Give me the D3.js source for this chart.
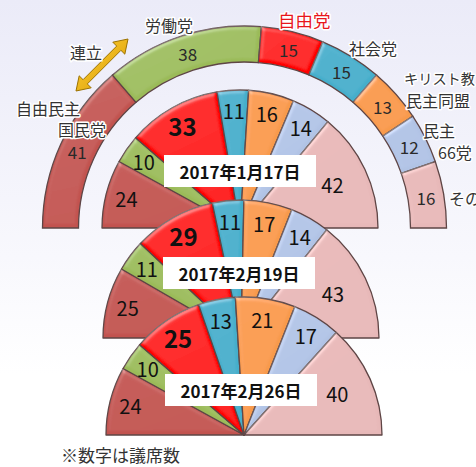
<!DOCTYPE html>
<html><head><meta charset="utf-8">
<script src="https://cdn.jsdelivr.net/npm/d3@7"></script>
<style>
html,body{margin:0;padding:0;background:#fff;}
svg{display:block;}
text{font-family:"Noto Sans CJK JP","Noto Sans",sans-serif;}
</style></head>
<body>
<svg id="c" width="476" height="467"></svg>
<script>
// ---------- data ----------
const parties = ["自由民主国民党","労働党","自由党","社会党","キリスト教民主同盟","民主66党","その他"];
const partyColors = ["#c2534f","#9bbb59","#ff0000","#45aecb","#f89a4c","#b1c3e5","#e7b8b8"];
const seatsCurrent = [41,38,15,15,13,12,16];
const pollDates = ["2017年1月17日","2017年2月19日","2017年2月26日"];
const pollJan17 = [24,10,33,11,16,14,42];
const pollFeb19 = [25,11,29,11,17,14,43];
const pollFeb26 = [24,10,25,13,21,17,40];
const polls = [pollJan17, pollFeb19, pollFeb26];
const noteText = "※数字は議席数";
const coalitionText = "連立";

// ---------- setup ----------
const svg = d3.select("#c");
const defs = svg.append("defs");
const bg = defs.append("linearGradient").attr("id","bg").attr("x1",0).attr("y1",0).attr("x2",0).attr("y2",1);
bg.append("stop").attr("offset","0%").attr("stop-color","#ebebf8");
bg.append("stop").attr("offset","55%").attr("stop-color","#f8f8fd");
bg.append("stop").attr("offset","80%").attr("stop-color","#ffffff");
svg.append("rect").attr("width",476).attr("height",467).attr("fill","url(#bg)");

// bevel filter
const f = defs.append("filter").attr("id","bevel").attr("x","-5%").attr("y","-5%").attr("width","110%").attr("height","110%");
f.append("feGaussianBlur").attr("in","SourceAlpha").attr("stdDeviation",2).attr("result","blur");
const spec = f.append("feSpecularLighting").attr("in","blur").attr("surfaceScale",2.5)
  .attr("specularConstant",0.4).attr("specularExponent",18).attr("lighting-color","#ffffff").attr("result","spec");
spec.append("fePointLight").attr("x",-300).attr("y",-600).attr("z",400);
f.append("feComposite").attr("in","spec").attr("in2","SourceAlpha").attr("operator","in").attr("result","specOut");
f.append("feComposite").attr("in","SourceGraphic").attr("in2","specOut").attr("operator","arithmetic")
  .attr("k1",0).attr("k2",1).attr("k3",0.55).attr("k4",0);

const pie = d3.pie().sort(null).startAngle(-Math.PI/2).endAngle(Math.PI/2);
const color = d3.scaleOrdinal().domain(parties).range(partyColors);

// ---------- top arc (current seats) ----------
const arcCx = 244.5, arcCy = 228, rIn = 166, rOut = 202;
const gTop = svg.append("g").attr("transform",`translate(${arcCx},${arcCy})`);
const arcTop = d3.arc().innerRadius(rIn).outerRadius(rOut);
const topData = pie(seatsCurrent);
gTop.selectAll("path").data(topData).join("path")
  .attr("d",arcTop).attr("fill",(d,i)=>color(parties[i]))
  .attr("stroke","#5e4545").attr("stroke-width",1.3).attr("filter","url(#bevel)");
const arcLbl = d3.arc().innerRadius((rIn+rOut)/2).outerRadius((rIn+rOut)/2);
gTop.selectAll("text.n").data(topData).join("text")
  .attr("class","n")
  .attr("transform",d=>`translate(${arcLbl.centroid(d)})`)
  .attr("text-anchor","middle").attr("dominant-baseline","central")
  .attr("font-size",17).attr("fill","#2a2a2a").text(d=>d.data);

// party labels around the arc
const partyLabels = [
  {t:"自由民主", x:16, y:108},
  {t:"国民党", x:58, y:129},
  {t:"労働党", x:145, y:25},
  {t:"自由党", x:278, y:19, c:"#e8161b", s:17.5},
  {t:"社会党", x:349, y:48},
  {t:"キリスト教", x:404, y:78, s:14.2},
  {t:"民主同盟", x:406, y:100},
  {t:"民主", x:423, y:130},
  {t:"66党", x:438, y:152},
  {t:"その他", x:449, y:198}
];
svg.append("g").selectAll("text").data(partyLabels).join("text")
  .attr("x",d=>d.x).attr("y",d=>d.y).attr("text-anchor","start")
  .attr("dominant-baseline","central")
  .attr("font-size",d=>d.s||16).attr("fill",d=>d.c||"#333")
  .attr("stroke","#ffffff").attr("stroke-width",3).attr("paint-order","stroke")
  .attr("stroke-linejoin","round")
  .text(d=>d.t);

// coalition arrow
(function(){
  const x1=76,y1=91,x2=128,y2=39;
  const dx=x2-x1, dy=y2-y1, L=Math.hypot(dx,dy), ux=dx/L, uy=dy/L, px=-uy, py=ux;
  const hw=3, HW=8.5, HL=13;
  const P=(t,o)=>[x1+ux*t+px*o, y1+uy*t+py*o];
  const pts=[P(0,0),P(HL,HW),P(HL,hw),P(L-HL,hw),P(L-HL,HW),P(L,0),P(L-HL,-HW),P(L-HL,-hw),P(HL,-hw),P(HL,-HW)];
  const g = defs.append("linearGradient").attr("id","gold").attr("x1",0).attr("y1",0).attr("x2",1).attr("y2",1);
  g.append("stop").attr("offset","0%").attr("stop-color","#ffd23a");
  g.append("stop").attr("offset","100%").attr("stop-color","#d99a00");
  svg.append("path").attr("d","M"+pts.map(p=>p.join(",")).join("L")+"Z")
    .attr("fill","url(#gold)").attr("stroke","#9c7200").attr("stroke-width",1);
  svg.append("text").attr("x",70).attr("y",52).attr("dominant-baseline","central")
    .attr("font-size",16).attr("fill","#333")
    .attr("stroke","#fff").attr("stroke-width",3).attr("paint-order","stroke").text(coalitionText);
})();

// ---------- polls (half pies) ----------
const pieCenters = [[240,228],[241,338],[244,435]];
const R = 138;
const boxes = [[164,155],[163,257],[165,374]];
const arcP = d3.arc().innerRadius(0).outerRadius(R);

polls.forEach((vals,k)=>{
  const [cx,cy] = pieCenters[k];
  const g = svg.append("g").attr("transform",`translate(${cx},${cy})`);
  const data = pie(vals);
  g.selectAll("path").data(data).join("path")
    .attr("d",arcP).attr("fill",(d,i)=>color(parties[i]))
    .attr("stroke","#5e4545").attr("stroke-width",1.3).attr("stroke-linejoin","round")
    .attr("filter","url(#bevel)");
  g.selectAll("text").data(data).join("text")
    .attr("transform",d=>{
      const mid=(d.startAngle+d.endAngle)/2;
      const span=d.endAngle-d.startAngle;
      const r = span>0.8 ? R*0.74 : R*0.85;
      return `translate(${Math.sin(mid)*r},${-Math.cos(mid)*r})`;
    })
    .attr("text-anchor","middle").attr("dominant-baseline","central")
    .attr("font-size",(d,i)=>i===2?24:20)
    .attr("font-weight",(d,i)=>i===2?"bold":"normal")
    .attr("fill","#111").text(d=>d.data);
  const [bx,by] = boxes[k];
  svg.append("rect").attr("x",bx).attr("y",by).attr("width",152).attr("height",32).attr("fill","#ffffff");
  svg.append("text").attr("x",bx+76).attr("y",by+16.5).attr("text-anchor","middle")
    .attr("dominant-baseline","central").attr("font-size",17).attr("font-weight","bold")
    .attr("fill","#111").text(pollDates[k]);
});

// note
svg.append("text").attr("x",61).attr("y",454).attr("dominant-baseline","central")
  .attr("font-size",17).attr("fill","#333").text(noteText);
</script>
</body></html>
